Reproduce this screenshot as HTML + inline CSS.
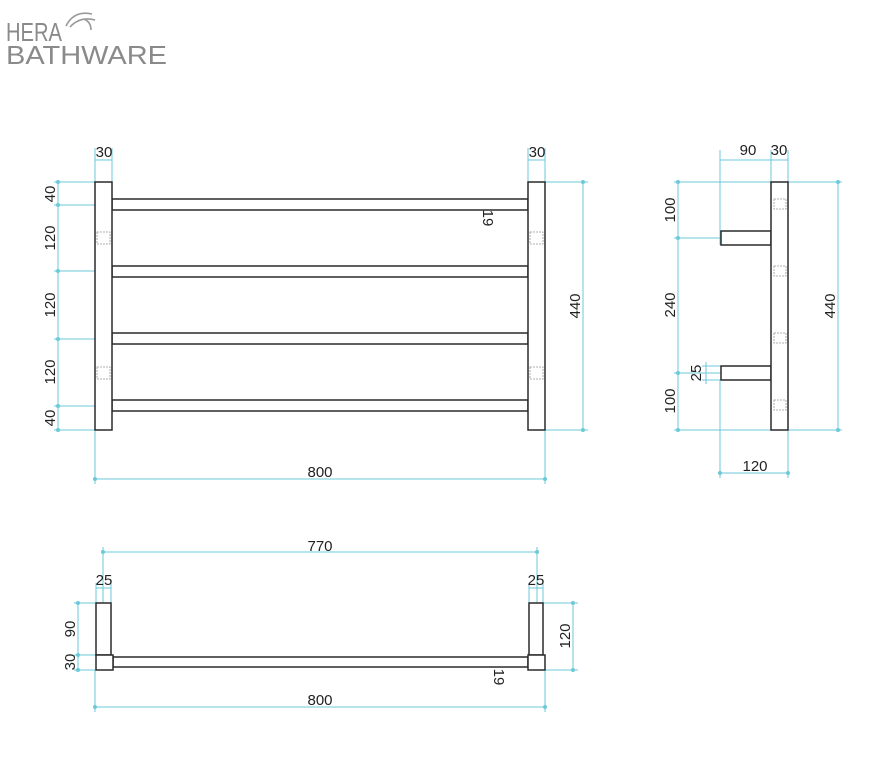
<!DOCTYPE html>
<html><head><meta charset="utf-8"><style>
body{margin:0;background:#fff;width:876px;height:784px;overflow:hidden}
svg{display:block}
text{font-family:"Liberation Sans",sans-serif;font-size:15px;fill:#222}
</style></head><body>
<svg width="876" height="784" viewBox="0 0 876 784">
<text x="6" y="41" textLength="56" lengthAdjust="spacingAndGlyphs" style="font-size:26px;fill:#8a8a8a">HERA</text>
<text x="6" y="64" textLength="161" lengthAdjust="spacingAndGlyphs" style="font-size:26px;fill:#8a8a8a">BATHWARE</text>
<path d="M66 26 Q74 10 92 14 M70 27 Q80 16 95 20 M84 19 Q91 22 91 30" stroke="#999" stroke-width="1.6" fill="none"/>

<g stroke="#6cc9d8" stroke-width="1" fill="none">
<path d="M95 148V182 M112 148V182 M95 160H112"/>
<path d="M528 148V182 M545 148V182 M528 160H545"/>
<path d="M54 182H95 M54 205H112 M54 271H112 M54 339H112 M54 406H112 M54 430H95 M58 182V430"/>
<path d="M545 182H588 M545 430H588 M583 182V430"/>
<path d="M95 430V484 M545 430V484 M95 479H545"/>
<path d="M497 199V210 M497 199H528 M497 210H528"/>
<path d="M720 150V245 M771 150V182 M788 150V182 M720 160H788"/>
<path d="M674 182H771 M674 238H721 M674 373H721 M674 430H771 M678 182V430"/>
<path d="M702 366H721 M702 380H721 M706 362V384"/>
<path d="M788 182H842 M788 430H842 M838 182V430"/>
<path d="M720 380V478 M788 430V478 M720 473H788"/>
<path d="M103 547V603 M537 547V603 M103 552H537"/>
<path d="M96 583V603 M111 583V603 M96 588H111"/>
<path d="M529 583V603 M543 583V603 M529 588H543"/>
<path d="M74 603H96 M74 655H96 M74 670H96 M78 603V670"/>
<path d="M543 603H578 M545 670H578 M573 603V670"/>
<path d="M95 670V712 M545 670V712 M95 707H545"/>
<path d="M508 657V667 M508 657H528 M508 667H528"/>
</g>
<g stroke="#6cc9d8" fill="#6cc9d8">
<circle cx="58" cy="182" r="1.5"/><circle cx="58" cy="205" r="1.5"/><circle cx="58" cy="271" r="1.5"/><circle cx="58" cy="339" r="1.5"/><circle cx="58" cy="406" r="1.5"/><circle cx="58" cy="430" r="1.5"/>
<circle cx="583" cy="182" r="1.5"/><circle cx="583" cy="430" r="1.5"/><circle cx="95" cy="479" r="1.5"/><circle cx="545" cy="479" r="1.5"/>
<circle cx="678" cy="182" r="1.5"/><circle cx="678" cy="238" r="1.5"/><circle cx="678" cy="373" r="1.5"/><circle cx="678" cy="430" r="1.5"/>
<circle cx="838" cy="182" r="1.5"/><circle cx="838" cy="430" r="1.5"/><circle cx="720" cy="473" r="1.5"/><circle cx="788" cy="473" r="1.5"/>
<circle cx="103" cy="552" r="1.5"/><circle cx="537" cy="552" r="1.5"/><circle cx="78" cy="603" r="1.5"/><circle cx="78" cy="655" r="1.5"/><circle cx="78" cy="670" r="1.5"/>
<circle cx="573" cy="603" r="1.5"/><circle cx="573" cy="670" r="1.5"/><circle cx="95" cy="707" r="1.5"/><circle cx="545" cy="707" r="1.5"/>
</g>

<g stroke="#2a2a2a" stroke-width="1.5" fill="#fff">
<rect x="112" y="199" width="416" height="11"/>
<rect x="112" y="266" width="416" height="11"/>
<rect x="112" y="333" width="416" height="11"/>
<rect x="112" y="400" width="416" height="11"/>
<rect x="95" y="182" width="17" height="248"/>
<rect x="528" y="182" width="17" height="248"/>
<rect x="721" y="231" width="50" height="14"/>
<rect x="721" y="366" width="50" height="14"/>
<rect x="771" y="182" width="17" height="248"/>
<rect x="113" y="657" width="415" height="10"/>
<rect x="96" y="603" width="15" height="52"/>
<rect x="529" y="603" width="14" height="52"/>
<rect x="96" y="655" width="17" height="15"/>
<rect x="528" y="655" width="17" height="15"/>
</g>
<g stroke="#999" stroke-width="0.8" fill="none" stroke-dasharray="2 1">
<rect x="97" y="232" width="13" height="12"/><rect x="97" y="367" width="13" height="12"/>
<rect x="530" y="232" width="13" height="12"/><rect x="530" y="367" width="13" height="12"/>
<rect x="774" y="199" width="12" height="10"/><rect x="774" y="266" width="12" height="10"/>
<rect x="774" y="333" width="12" height="10"/><rect x="774" y="400" width="12" height="10"/>
</g>

<text x="104" y="157" text-anchor="middle">30</text>
<text x="537" y="157" text-anchor="middle">30</text>
<g text-anchor="middle">
<text transform="translate(55,194) rotate(-90)">40</text>
<text transform="translate(55,238) rotate(-90)">120</text>
<text transform="translate(55,305) rotate(-90)">120</text>
<text transform="translate(55,372) rotate(-90)">120</text>
<text transform="translate(55,418) rotate(-90)">40</text>
<text transform="translate(580,306) rotate(-90)">440</text>
<text transform="translate(483,218) rotate(90)">19</text>
<text transform="translate(675,210) rotate(-90)">100</text>
<text transform="translate(675,305) rotate(-90)">240</text>
<text transform="translate(701,373) rotate(-90)">25</text>
<text transform="translate(675,401) rotate(-90)">100</text>
<text transform="translate(835,306) rotate(-90)">440</text>
<text transform="translate(75,629) rotate(-90)">90</text>
<text transform="translate(75,662) rotate(-90)">30</text>
<text transform="translate(570,636) rotate(-90)">120</text>
<text transform="translate(494,677) rotate(90)">19</text>
</g>
<text x="320" y="477" text-anchor="middle">800</text>
<text x="748" y="155" text-anchor="middle">90</text>
<text x="779" y="155" text-anchor="middle">30</text>
<text x="755" y="471" text-anchor="middle">120</text>
<text x="320" y="551" text-anchor="middle">770</text>
<text x="104" y="585" text-anchor="middle">25</text>
<text x="536" y="585" text-anchor="middle">25</text>
<text x="320" y="705" text-anchor="middle">800</text>
</svg>
</body></html>
